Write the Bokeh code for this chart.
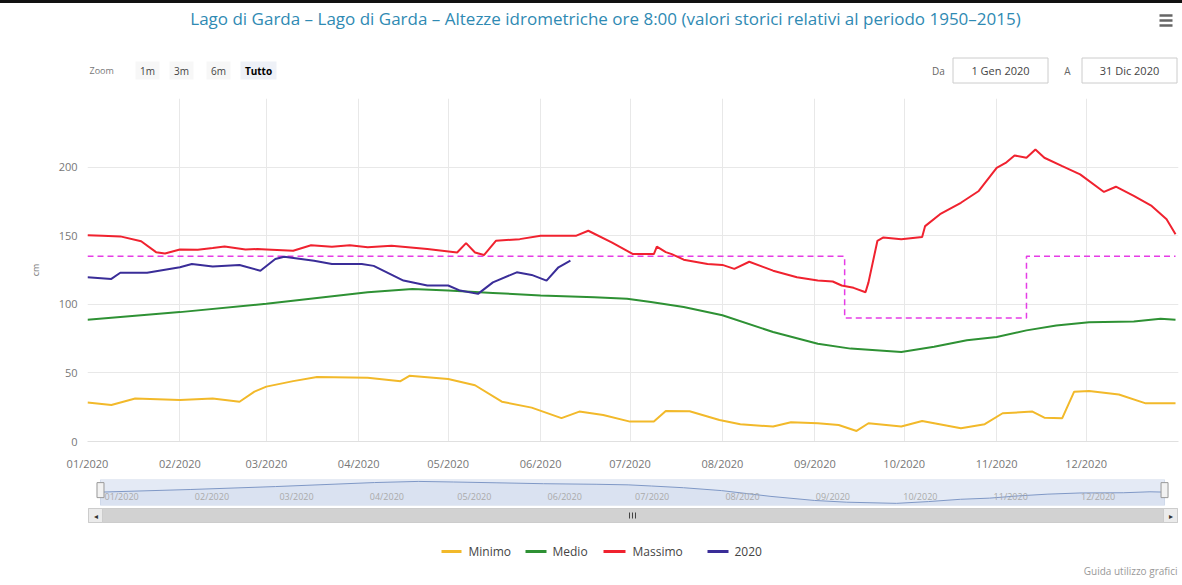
import pandas as pd
from bokeh.plotting import figure
from bokeh.layouts import column
from bokeh.models import Range1d, FixedTicker, DatetimeTickFormatter
from bokeh.core.properties import value
from bokeh.embed import file_html
from bokeh.resources import INLINE

FONT = value("Open Sans")
W = 1182
FL, FR = 87, 4          # frame borders shared by every figure of the column

TITLE = "Lago di Garda – Lago di Garda – Altezze idrometriche ore 8:00 (valori storici relativi al periodo 1950–2015)"
SERIES_NAMES = ["Minimo", "Medio", "Massimo", "2020"]
MONTH_STARTS = ["2020-01-01", "2020-02-01", "2020-03-01", "2020-04-01", "2020-05-01", "2020-06-01",
                "2020-07-01", "2020-08-01", "2020-09-01", "2020-10-01", "2020-11-01", "2020-12-01"]
NAV_LABELS = ["01/2020", "02/2020", "03/2020", "04/2020", "05/2020", "06/2020",
              "07/2020", "08/2020", "09/2020", "10/2020", "11/2020", "12/2020"]
Y_TICKS = [0, 50, 100, 150, 200, 250]

# Massimo (red)
max_dates = ["2020-01-01", "2020-01-06", "2020-01-12", "2020-01-19", "2020-01-24",
             "2020-01-27", "2020-02-01", "2020-02-07", "2020-02-12", "2020-02-16",
             "2020-02-23", "2020-02-27", "2020-03-01", "2020-03-10", "2020-03-16",
             "2020-03-23", "2020-03-29", "2020-04-04", "2020-04-12", "2020-04-24",
             "2020-05-04", "2020-05-07", "2020-05-10", "2020-05-13", "2020-05-17",
             "2020-05-25", "2020-06-01", "2020-06-13", "2020-06-17", "2020-06-25",
             "2020-07-02", "2020-07-09", "2020-07-10", "2020-07-13", "2020-07-15",
             "2020-07-19", "2020-07-27", "2020-08-01", "2020-08-05", "2020-08-10",
             "2020-08-18", "2020-08-26", "2020-09-02", "2020-09-07", "2020-09-10",
             "2020-09-14", "2020-09-18", "2020-09-19", "2020-09-22", "2020-09-24",
             "2020-09-30", "2020-10-07", "2020-10-08", "2020-10-13", "2020-10-20",
             "2020-10-26", "2020-11-01", "2020-11-04", "2020-11-07", "2020-11-11",
             "2020-11-14", "2020-11-17", "2020-11-23", "2020-11-29", "2020-12-07",
             "2020-12-11", "2020-12-17", "2020-12-23", "2020-12-28", "2020-12-31"]
max_vals = [150.4, 150, 149.5, 146, 138,
            137, 140, 139.8, 141, 142.2,
            140, 140.3, 140, 139, 143,
            142, 143, 141.5, 142.7, 140.3,
            137.8, 144.6, 137.8, 135.9, 146.3,
            147.5, 150, 150, 153.6, 145,
            136.6, 136.6, 142, 138, 136.6,
            132.5, 129.4, 128.7, 125.8, 131,
            124.5, 119.7, 117.3, 116.6, 113.7,
            112, 108.8, 116, 146.3, 148.7,
            147.5, 149, 157, 165.7, 174,
            182.6, 199.5, 203, 208.5, 206.8,
            212.8, 206.8, 200.7, 194.7, 181.9,
            185.7, 179, 171.7, 162, 151]

# Medio (green)
med_dates = ["2020-01-01", "2020-02-01", "2020-03-01", "2020-04-04", "2020-04-19",
             "2020-05-01", "2020-05-16", "2020-06-01", "2020-06-19", "2020-06-30",
             "2020-07-08", "2020-07-19", "2020-08-01", "2020-08-18", "2020-09-02",
             "2020-09-13", "2020-09-30", "2020-10-11", "2020-10-22", "2020-11-01",
             "2020-11-11", "2020-11-21", "2020-12-02", "2020-12-17", "2020-12-26",
             "2020-12-31"]
med_vals = [88.8, 94.3, 100.4, 108.8, 111.2,
            110, 108.3, 106.4, 105.2, 104,
            101.6, 98, 92, 79.8, 71.3,
            67.7, 65.3, 69, 73.8, 76.2,
            81, 84.6, 87, 87.5, 89.5,
            88.8]

# Minimo (yellow)
min_dates = ["2020-01-01", "2020-01-09", "2020-01-17", "2020-02-01", "2020-02-12",
             "2020-02-21", "2020-02-26", "2020-03-01", "2020-03-10", "2020-03-18",
             "2020-04-04", "2020-04-15", "2020-04-18", "2020-05-01", "2020-05-10",
             "2020-05-19", "2020-05-29", "2020-06-08", "2020-06-14", "2020-06-22",
             "2020-07-01", "2020-07-09", "2020-07-13", "2020-07-21", "2020-07-31",
             "2020-08-07", "2020-08-18", "2020-08-24", "2020-09-02", "2020-09-09",
             "2020-09-15", "2020-09-19", "2020-09-30", "2020-10-07", "2020-10-20",
             "2020-10-28", "2020-11-03", "2020-11-13", "2020-11-17", "2020-11-23",
             "2020-11-27", "2020-12-02", "2020-12-12", "2020-12-21", "2020-12-31"]
min_vals = [28.5, 26.6, 31.4, 30.2, 31.4,
            29, 36.3, 40, 44, 47,
            46.4, 44, 47.9, 45.5, 41,
            29, 24.7, 17, 21.8, 19.3,
            14.5, 14.5, 22.2, 22, 15.7,
            12.6, 10.9, 14, 13.3, 12,
            7.7, 13.3, 11, 15, 9.7,
            12.6, 20.6, 21.8, 17.4, 17,
            36.3, 36.8, 34.3, 27.8, 27.8]

# 2020 (navy)
cur_dates = ["2020-01-01", "2020-01-09", "2020-01-12", "2020-01-21", "2020-02-01",
             "2020-02-05", "2020-02-12", "2020-02-21", "2020-02-28", "2020-03-04",
             "2020-03-07", "2020-03-17", "2020-03-23", "2020-04-02", "2020-04-06",
             "2020-04-16", "2020-04-24", "2020-05-01", "2020-05-05", "2020-05-11",
             "2020-05-16", "2020-05-24", "2020-05-29", "2020-06-03", "2020-06-07",
             "2020-06-11"]
cur_vals = [119.7, 118.5, 123, 123, 127,
            129.4, 127.5, 128.7, 124.5, 133,
            134.7, 131.8, 129.4, 129.4, 128,
            117.3, 113.7, 113.7, 110, 107.6,
            116, 123.3, 121.4, 117.3, 127,
            131.8]

# regulation limit (dashed magenta step line)
lim_dates = ["2020-01-01", "2020-09-11", "2020-11-11", "2020-12-31"]
lim_vals = [135, 90, 135, 135]

COL_MIN, COL_MED, COL_MAX, COL_CUR, COL_LIM = "#f2b92a", "#2e9134", "#f0222f", "#3a2d98", "#e63ce6"


def D(lst):
    return pd.to_datetime(lst)


def pixel_fig(top, bottom):
    f = figure(width=W, height=bottom - top, x_range=Range1d(FL, W - FR), y_range=Range1d(bottom, top),
               x_axis_location=None, y_axis_location=None,
               min_border_left=FL, min_border_right=FR, min_border_top=0, min_border_bottom=0,
               output_backend="svg", toolbar_location=None)
    f.xgrid.visible = False
    f.ygrid.visible = False
    f.outline_line_color = None
    f.background_fill_color = "white"
    f.border_fill_color = "white"
    return f


# ---------- header (screen y 3..98; a 3px black rule sits above it) ----------
hdr = pixel_fig(3, 98)
hdr.text(x=[605], y=[18], text=[TITLE], text_font=FONT, text_font_size="17px",
         text_color="#2f8ab3", text_align="center", text_baseline="middle")
hdr.segment(x0=[1159, 1159, 1159], y0=[15, 20, 25], x1=[1172, 1172, 1172], y1=[15, 20, 25],
            line_color="#666666", line_width=2.5)
hdr.text(x=[89], y=[70], text=["Zoom"], text_font=FONT, text_font_size="9px",
         text_color="#777777", text_align="left", text_baseline="middle")
hdr.rect(x=[147, 181, 218, 258], y=[70, 70, 70, 70], width=[24, 24, 24, 36], height=[18, 18, 18, 18],
         fill_color=["#f7f7f7", "#f7f7f7", "#f7f7f7", "#eef1f7"], line_color=None)
hdr.text(x=[147, 181, 218], y=[70, 70, 70], text=["1m", "3m", "6m"], text_font=FONT,
         text_font_size="10px", text_color="#444444", text_align="center", text_baseline="middle")
hdr.text(x=[258], y=[70], text=["Tutto"], text_font=FONT, text_font_size="10px",
         text_font_style="bold", text_color="#000000", text_align="center", text_baseline="middle")
hdr.text(x=[938, 1067], y=[70, 70], text=["Da", "A"], text_font=FONT, text_font_size="10px",
         text_color="#666666", text_align="center", text_baseline="middle")
hdr.rect(x=[1000, 1129], y=[70, 70], width=[95, 95], height=[25, 25],
         fill_color="white", line_color="#cccccc", line_width=1)
hdr.text(x=[1000, 1129], y=[70, 70], text=["1 Gen 2020", "31 Dic 2020"], text_font=FONT,
         text_font_size="11px", text_color="#444444", text_align="center", text_baseline="middle")

# ---------- main chart (screen y 98..476) ----------
main = figure(width=W, height=378, x_axis_type="datetime",
              x_range=Range1d(pd.Timestamp("2020-01-01"), pd.Timestamp("2021-01-01")),
              y_range=Range1d(0, 250),
              min_border_left=FL, min_border_right=FR, min_border_top=0, min_border_bottom=35,
              output_backend="svg", toolbar_location=None)
main.outline_line_color = None
main.background_fill_color = "white"
main.border_fill_color = "white"
month_ms = [pd.Timestamp(m).value // 10**6 for m in MONTH_STARTS]
main.xaxis.ticker = FixedTicker(ticks=month_ms)
main.xaxis.formatter = DatetimeTickFormatter(days="%m/%Y", months="%m/%Y", years="%m/%Y")
main.yaxis.ticker = FixedTicker(ticks=Y_TICKS)
main.yaxis.major_label_overrides = {250: ""}
for ax in (main.xaxis[0], main.yaxis[0]):
    ax.major_label_text_font = "Open Sans"
    ax.major_label_text_font_size = "11px"
    ax.major_label_text_color = "#777777"
    ax.major_tick_line_color = None
    ax.minor_tick_line_color = None
    ax.major_tick_out = 0
    ax.major_tick_in = 0
main.xaxis.axis_line_color = "#e0e0e0"
main.yaxis.axis_line_color = None
main.xaxis.major_label_standoff = 14
main.yaxis.major_label_standoff = 10
main.yaxis.axis_label = "cm"
main.yaxis.axis_label_text_font = "Open Sans"
main.yaxis.axis_label_text_font_size = "9px"
main.yaxis.axis_label_text_font_style = "normal"
main.yaxis.axis_label_text_color = "#777777"
main.yaxis.axis_label_standoff = 14
main.xgrid.grid_line_color = "#e8e8e8"
main.ygrid.grid_line_color = "#e8e8e8"

main.step(D(lim_dates), lim_vals, mode="after", line_color=COL_LIM, line_width=1.5, line_dash="6 4")
main.line(D(min_dates), min_vals, line_color=COL_MIN, line_width=2)
main.line(D(med_dates), med_vals, line_color=COL_MED, line_width=2)
main.line(D(max_dates), max_vals, line_color=COL_MAX, line_width=2)
main.line(D(cur_dates), cur_vals, line_color=COL_CUR, line_width=2)

# ---------- navigator (screen y 476..507) ----------
NAV_LO, NAV_HI = 60.8, 115.2
nav = figure(width=W, height=31, x_axis_type="datetime",
             x_range=Range1d(pd.Timestamp("2019-12-27 13:00"), pd.Timestamp("2021-01-04 19:00")),
             y_range=Range1d(NAV_LO, NAV_HI),
             x_axis_location=None, y_axis_location=None,
             min_border_left=FL, min_border_right=FR, min_border_top=3, min_border_bottom=2,
             output_backend="svg", toolbar_location=None)
nav.xgrid.visible = False
nav.ygrid.visible = False
nav.background_fill_color = "white"
nav.border_fill_color = "white"
nav.outline_line_color = None
nav.quad(left=D(["2020-01-01"]), right=D(["2020-12-31"]), bottom=[NAV_LO], top=[NAV_HI],
         fill_color="#e4eaf5", line_color="#d3dcec")
nav.varea(x=D(med_dates), y1=NAV_LO, y2=med_vals, fill_color="#6685c2", fill_alpha=0.07)
nav.line(D(med_dates), med_vals, line_color="#7f98c6", line_width=1)
nav.text(x=D(MONTH_STARTS), y=[80] * 12, text=NAV_LABELS, x_offset=4, text_font=FONT,
         text_font_size="9px", text_color="#aaaaaa", text_align="left", text_baseline="middle")
nav.rect(x=D(["2020-01-01", "2020-12-31"]), y=[93, 93], width=7, height=15,
         width_units="screen", height_units="screen",
         fill_color="#f2f2f2", line_color="#999999")

# ---------- scrollbar (screen y 507..523) ----------
sb = pixel_fig(507, 523)
sb.quad(left=[88], right=[1177], top=[508], bottom=[522], fill_color="#d2d2d2", line_color="#cccccc")
sb.quad(left=[88, 1163], right=[102, 1177], top=[508, 508], bottom=[522, 522],
        fill_color="#ebebeb", line_color="#cccccc")
sb.text(x=[95, 1170], y=[515, 515], text=["◂", "▸"], text_font=FONT, text_font_size="8px",
        text_color="#333333", text_align="center", text_baseline="middle")
sb.segment(x0=[629, 632, 635], y0=[512, 512, 512], x1=[629, 632, 635], y1=[518, 518, 518],
           line_color="#444444", line_width=1)

# ---------- legend & credits (screen y 523..581) ----------
ftr = pixel_fig(523, 581)
ftr.segment(x0=[441, 525, 603, 707], y0=[551] * 4, x1=[461, 546, 625, 728], y1=[551] * 4,
            line_color=[COL_MIN, COL_MED, COL_MAX, COL_CUR], line_width=3)
ftr.text(x=[468, 552, 632, 734], y=[551] * 4, text=SERIES_NAMES, text_font=FONT,
         text_font_size="12px", text_color="#444444", text_align="left", text_baseline="middle")
ftr.text(x=[1177], y=[570], text=["Guida utilizzo grafici"], text_font=FONT, text_font_size="10px",
         text_color="#999999", text_align="right", text_baseline="middle")

layout = column(hdr, main, nav, sb, ftr, spacing=0,
                styles={"border-top": "3px solid #111111"})
open("out.html", "w").write(file_html(layout, INLINE))
